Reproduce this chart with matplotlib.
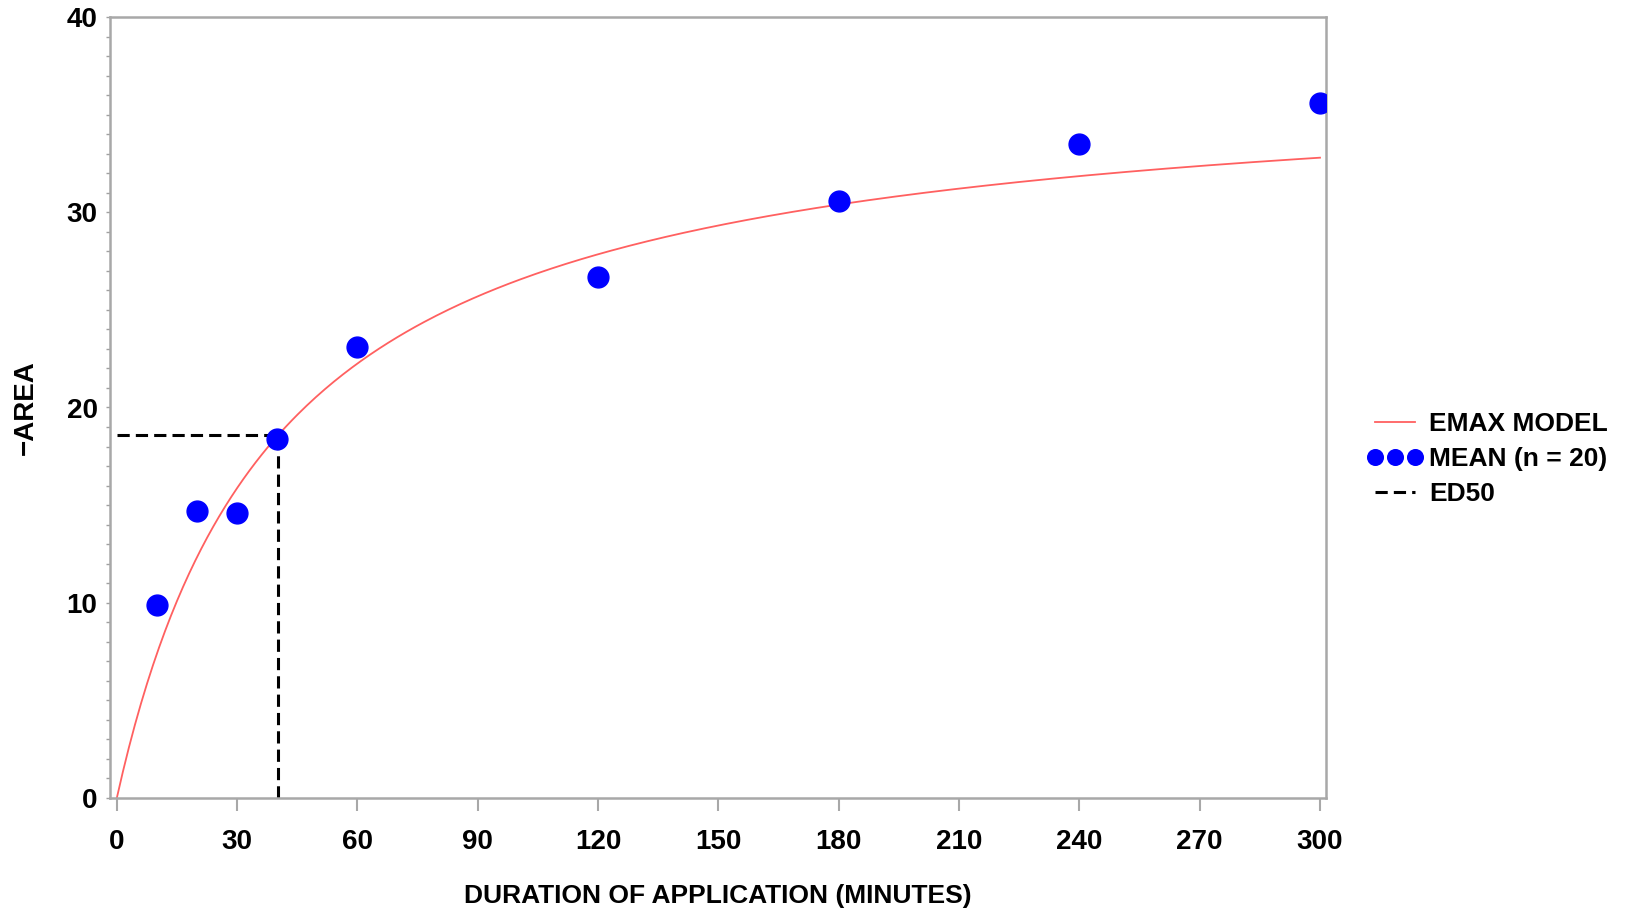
import numpy as np
import matplotlib
matplotlib.use('Agg')
import matplotlib.pyplot as plt

duration = [10, 20, 30, 40, 60, 120, 180, 240, 300]
mean_area = [9.9, 14.7, 14.6, 18.4, 23.1, 26.7, 30.6, 33.5, 35.6]

emax = 37.2
ed50 = 40.3

xticks = list(range(0, 301, 30))
yticks = [0, 10, 20, 30, 40]

plt.rcParams['font.family'] = ['Liberation Sans', 'DejaVu Sans']
plt.rcParams['font.weight'] = 'bold'

W, H = 1627, 914
fig = plt.figure(figsize=(W / 100, H / 100), dpi=100)
ax = fig.add_axes([110 / W, 1 - 798 / H, (1326 - 110) / W, (798 - 17) / H])

# model curve
xs = np.linspace(0, 300, 400)
model = emax * xs / (ed50 + xs)
ax.plot(xs, model, color='#ff6060', lw=1.3, label='EMAX MODEL', zorder=2)

# observed means
ax.plot(duration, mean_area, 'o', color='#0000ff', ms=15, mec='#0000ff',
        label='MEAN (n = 20)', zorder=3)

# ED50 guides
half = emax / 2
ax.plot([0, ed50], [half, half], color='black', lw=2.2, ls=(0, (4, 2)), zorder=1,
        label='ED50')
ax.plot([ed50, ed50], [0, half], color='black', lw=2.2, ls=(0, (4, 2)), zorder=1)

ax.set_xlim(-1.7, 301.5)
ax.set_ylim(0, 40)
ax.set_xticks(xticks)
ax.set_yticks(yticks)
ax.set_yticks(np.arange(0, 41, 1), minor=True)

for s in ax.spines.values():
    s.set_color('#a8a8a8')
    s.set_linewidth(1.8)

ax.tick_params(axis='x', length=9, width=1.5, color='#a8a8a8', pad=13,
               labelsize=20)
ax.tick_params(axis='y', which='both', length=3, width=1.0, color='#a0a0a0',
               pad=6, labelsize=20)
for lab in ax.get_xticklabels() + ax.get_yticklabels():
    lab.set_fontweight('bold')

ax.set_xlabel('DURATION OF APPLICATION (MINUTES)', fontsize=19,
              fontweight='bold', va='center')
ax.xaxis.set_label_coords(0.5, (798 - 896) / 781)
ax.set_ylabel('\u2212AREA', fontsize=20, fontweight='bold', va='center')
ax.yaxis.set_label_coords((26 - 110) / 1216, 0.5)

fig.legend(loc='center left', bbox_to_anchor=(1367 / W, 1 - 459 / H),
           frameon=False, handlelength=2.1, handletextpad=0.25,
           labelspacing=0.42, borderpad=0, borderaxespad=0, numpoints=3,
           markerscale=0.75, prop={'weight': 'bold', 'size': 19})

fig.savefig('out.png', dpi=100)
